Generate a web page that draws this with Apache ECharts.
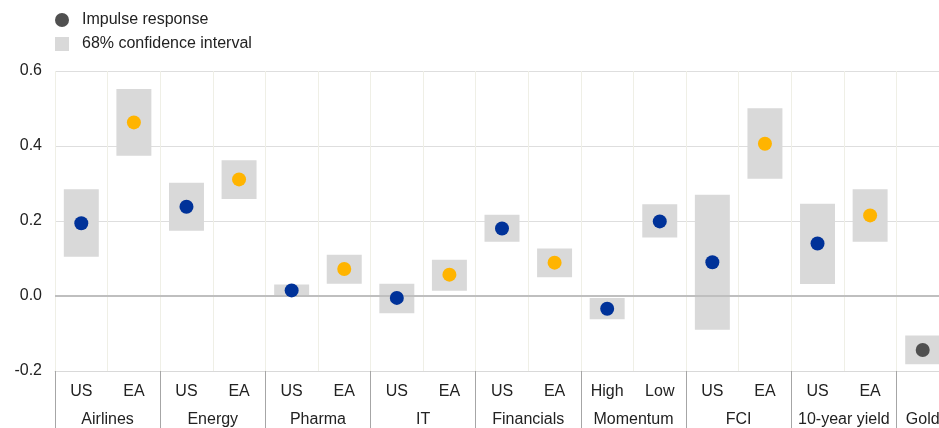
<!DOCTYPE html>
<html>
<head>
<meta charset="utf-8">
<script src="https://cdn.jsdelivr.net/npm/echarts@6/dist/echarts.min.js"></script>
<style>html,body{margin:0;padding:0;background:#fff;overflow:hidden;width:939px;height:428px}#c{width:952px;height:428px}</style>
</head>
<body>
<div id="c"></div>
<script>
const subLabels = ['US','EA','US','EA','US','EA','US','EA','US','EA','High','Low','US','EA','US','EA',''];
const groupNames = ['Airlines','Energy','Pharma','IT','Financials','Momentum','FCI','10-year yield','Gold'];
const groupSizes = [2,2,2,2,2,2,2,2,1];
const pointKind = ['US','EA','US','EA','US','EA','US','EA','US','EA','US','US','US','EA','US','EA','Gold'];
const impulse = [0.194,0.463,0.238,0.311,0.015,0.072,-0.005,0.057,0.180,0.089,-0.034,0.199,0.090,0.406,0.140,0.215,-0.144];
const ciLow  = [0.105,0.374,0.174,0.259,0.000,0.033,-0.046,0.014,0.145,0.050,-0.062,0.156,-0.090,0.313,0.032,0.145,-0.182];
const ciHigh = [0.285,0.552,0.302,0.362,0.031,0.110,0.033,0.097,0.217,0.127,-0.005,0.245,0.270,0.501,0.246,0.285,-0.105];
const yTicks = {min:-0.2, max:0.6, interval:0.2};

const kindColor = {US:'#003299', EA:'#ffb400', Gold:'#505050'};

// Build group axis (half-category resolution, boundaryGap false)
const nHalf = subLabels.length*2 + 1;
const groupAxisData = new Array(nHalf).fill('');
const boundarySet = new Set();
let s = 0;
groupNames.forEach((g,i)=>{
  boundarySet.add(2*s);
  groupAxisData[2*s + groupSizes[i]] = g;
  s += groupSizes[i];
});
boundarySet.add(2*s);

const chart = echarts.init(document.getElementById('c'));
const font = 'Liberation Sans, Arial, sans-serif';
const fs = 16;
chart.setOption({
  animation:false,
  textStyle:{fontFamily:font},
  legend:{
    orient:'vertical', left:55, top:12, padding:0, itemWidth:14, itemHeight:14, itemGap:8,
    textStyle:{fontSize:fs, color:'#222', fontFamily:font, padding:[0,0,0,8]},
    data:[{name:'Impulse response', icon:'circle'},{name:'68% confidence interval', icon:'rect'}]
  },
  grid:{left:55, right:3, top:71, bottom:57, containLabel:false},
  xAxis:[{
    type:'category', data:subLabels, boundaryGap:true,
    axisLine:{show:false}, axisTick:{show:false},
    axisLabel:{interval:0, margin:13, fontSize:fs, color:'#222', fontFamily:font},
    splitLine:{show:true, lineStyle:{color:'#efefe6', width:1}}
  },{
    type:'category', data:groupAxisData, boundaryGap:false, position:'bottom',
    axisLine:{show:true, lineStyle:{color:'#d9d9d9', width:1}},
    axisTick:{show:true, length:58, interval:(i)=>boundarySet.has(i), lineStyle:{color:'#a6a6a6'}},
    axisLabel:{interval:(i,v)=>v!=='', margin:41, fontSize:fs, color:'#222', fontFamily:font},
    splitLine:{show:false}
  }],
  yAxis:{
    type:'value', min:yTicks.min, max:yTicks.max, interval:yTicks.interval,
    axisLine:{show:false}, axisTick:{show:false},
    axisLabel:{formatter:v=>v.toFixed(1), margin:13, fontSize:fs, color:'#222', fontFamily:font},
    splitLine:{lineStyle:{color:'#dedede'}}
  },
  series:[{
    name:'68% confidence interval', type:'custom', xAxisIndex:0, color:'#d9d9d9', z:2,
    data: ciLow.map((lo,i)=>[i, lo, ciHigh[i]]),
    encode:{x:0, y:[1,2]},
    renderItem:(params, api)=>{
      const x = api.value(0);
      const pTop = api.coord([x, api.value(2)]);
      const pBot = api.coord([x, api.value(1)]);
      const w = api.size([1,0])[0]*0.665;
      return {type:'rect', shape:{x:pTop[0]-w/2, y:pTop[1], width:w, height:pBot[1]-pTop[1]}, style:{fill:'#d9d9d9'}};
    },
    markLine:{silent:true, symbol:'none', label:{show:false}, z:3,
      lineStyle:{color:'#bfbfbf', width:2, type:'solid', opacity:1}, data:[{yAxis:0}]}
  },{
    name:'Impulse response', type:'scatter', xAxisIndex:0, symbolSize:14, z:5,
    itemStyle:{color:'#505050', opacity:1},
    data: impulse.map((v,i)=>({value:[i,v], itemStyle:{color:kindColor[pointKind[i]], opacity:1}}))
  }]
});
</script>
</body>
</html>
